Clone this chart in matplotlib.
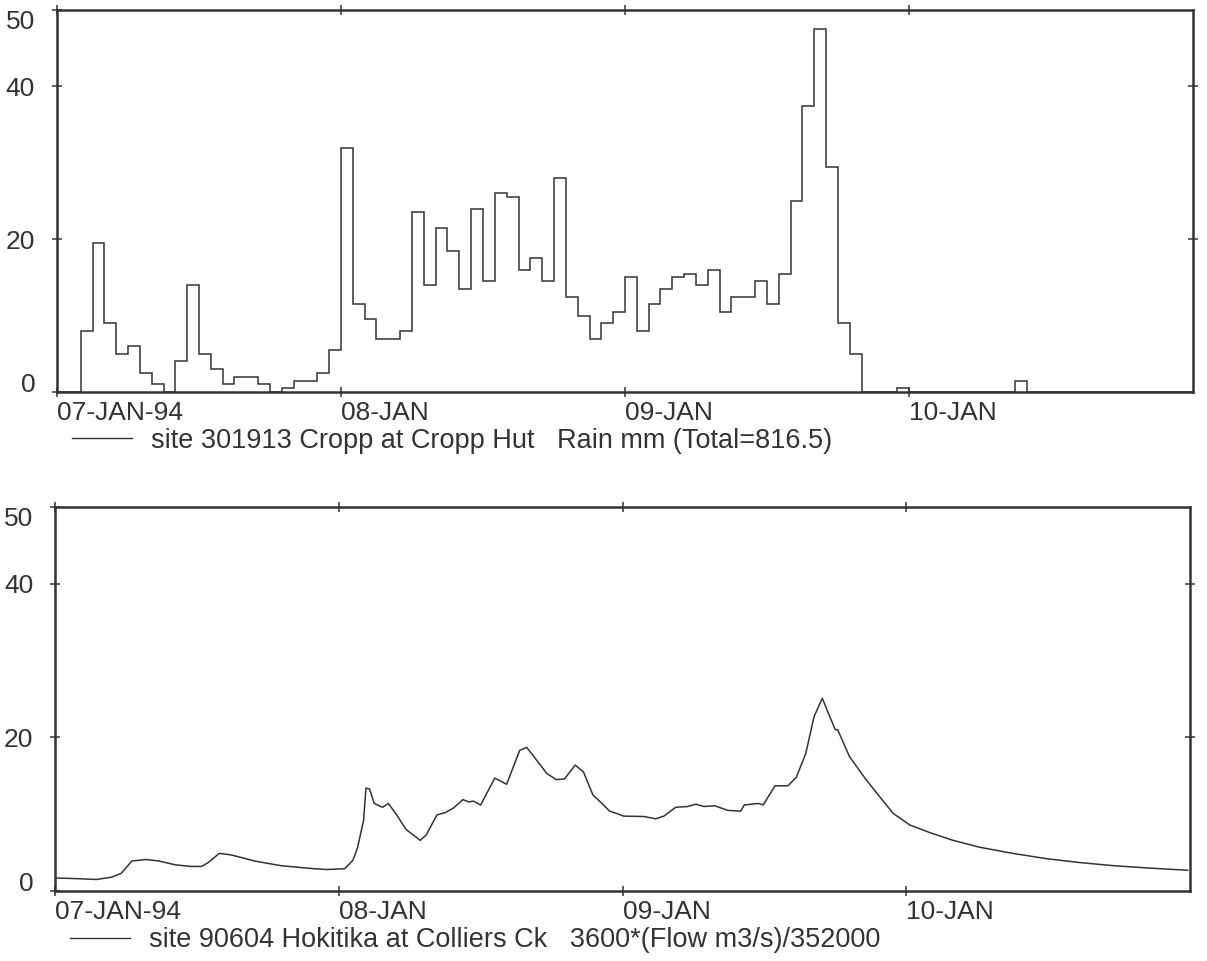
import numpy as np
import matplotlib.pyplot as plt
from matplotlib.lines import Line2D

plt.rcParams['font.family'] = ['Liberation Sans', 'DejaVu Sans']

# hourly rain at Cropp Hut, 07-JAN-94 00:00 onwards (mm)
rain_mm = [
    0, 0, 8.0, 19.5, 9.0, 5.0, 6.0, 2.5, 1.0, 0,
    4.0, 14.0, 5.0, 3.0, 1.0, 2.0, 2.0, 1.0, 0, 0.5,
    1.5, 1.5, 2.5, 5.5, 32.0, 11.5, 9.5, 7.0, 7.0, 8.0,
    23.5, 14.0, 21.5, 18.5, 13.5, 24.0, 14.5, 26.0, 25.5, 16.0,
    17.5, 14.5, 28.0, 12.5, 10.0, 7.0, 9.0, 10.5, 15.0, 8.0,
    11.5, 13.5, 15.0, 15.5, 14.0, 16.0, 10.5, 12.5, 12.5, 14.5,
    11.5, 15.5, 25.0, 37.5, 47.5, 29.5, 9.0, 5.0, 0, 0,
    0, 0.5, 0, 0, 0, 0, 0, 0, 0, 0,
    0, 1.5, 0, 0, 0, 0, 0, 0, 0, 0,
    0, 0, 0, 0, 0, 0,
]

# Hokitika at Colliers Ck, flow scaled to mm/h equivalent
flow_hours = [
    0, 2, 3.5, 4.8, 5.6, 6.5, 7.7, 8.8, 10.2, 11.5, 12.4, 12.95, 13.9, 14.9,
    16.9, 19.1, 21.9, 23.0, 24.5, 25.2, 25.6, 26.1, 26.3, 26.6, 27.0, 27.7,
    28.2, 28.9, 29.7, 30.9, 31.4, 32.3, 33.0, 33.7, 34.5, 35.0, 35.4, 36.0,
    37.2, 38.2, 39.3, 39.9, 40.6, 41.6, 42.4, 43.1, 44.0, 44.7, 45.5, 46.4,
    46.9, 47.5, 48.1, 49.8, 50.8, 51.5, 52.5, 53.5, 54.2, 54.9, 55.8, 56.9,
    58.0, 58.3, 59.5, 59.9, 60.9, 62.0, 62.7, 63.5, 64.2, 64.9, 65.4, 66.0,
    66.2, 67.2, 68.6, 70.0, 70.9, 72.3, 74.0, 75.95, 78.2, 81.0, 83.9, 86.7,
    89.5, 92.4, 95.8,
]
flow_scaled = [
    1.7, 1.6, 1.5, 1.8, 2.3, 3.9, 4.1, 3.9, 3.4, 3.2, 3.2, 3.7, 4.9, 4.7,
    3.9, 3.3, 2.9, 2.8, 2.9, 4.0, 5.7, 9.2, 13.4, 13.3, 11.4, 10.9,
    11.4, 9.9, 8.0, 6.6, 7.3, 9.9, 10.2, 10.8, 11.9, 11.6, 11.7, 11.2,
    14.7, 13.9, 18.3, 18.7, 17.3, 15.3, 14.5, 14.6, 16.4, 15.5, 12.5, 11.2,
    10.4, 10.1, 9.75, 9.7, 9.4, 9.75, 10.9, 11.0, 11.3, 11.0, 11.1, 10.5,
    10.4, 11.2, 11.4, 11.2, 13.7, 13.7, 14.8, 17.9, 22.7, 25.1, 23.2, 21.0,
    21.0, 17.5, 14.5, 11.8, 10.1, 8.6, 7.6, 6.6, 5.7, 4.9, 4.2, 3.7,
    3.3, 3.0, 2.7,
]

day_ticks = [0, 24, 48, 72]
day_labels = ['07-JAN-94', '08-JAN', '09-JAN', '10-JAN']
y_ticks = [0, 20, 40, 50]

rain_label = 'site 301913 Cropp at Cropp Hut   Rain mm (Total=816.5)'
flow_label = 'site 90604 Hokitika at Colliers Ck   3600*(Flow m3/s)/352000'

ink = '#333333'
W, H = 1207, 961

fig = plt.figure(figsize=(W / 100, H / 100), dpi=100)
ax_rain = fig.add_axes([57 / W, 1 - 392 / H, 1136 / W, 382 / H])
ax_flow = fig.add_axes([55 / W, 1 - 891 / H, 1135 / W, 384 / H])


def style_axes(ax, label):
    ax.set_xlim(0, 96)
    ax.set_ylim(0, 50)
    ax.set_xticks(day_ticks, day_labels)
    ax.set_yticks(y_ticks, [str(v) for v in y_ticks])
    ax.tick_params(axis='both', direction='inout', length=7.5, width=1.1,
                   color=ink, labelcolor=ink, labelsize=19,
                   top=True, right=True)
    ax.tick_params(axis='x', pad=3)
    ax.tick_params(axis='y', pad=12)
    for lab in ax.get_xticklabels():
        lab.set_ha('left')
    ylabs = ax.get_yticklabels()
    ylabs[0].set_va('baseline')
    ylabs[-1].set_va('top')
    yt = ax.yaxis.get_major_ticks()
    yt[0].tick2line.set_visible(False)
    yt[-1].tick2line.set_visible(False)
    for sp in ax.spines.values():
        sp.set_linewidth(1.8)
        sp.set_color(ink)
    ax.legend(handles=[Line2D([], [], color=ink, lw=1.0)], labels=[label],
              loc='center left', bbox_to_anchor=(15 / 1136, -49 / 383),
              frameon=False, fontsize=19.5, labelcolor=ink,
              handlelength=2.2, handletextpad=0.7,
              borderpad=0, borderaxespad=0)


# hyetograph as hourly steps
ax_rain.stairs(rain_mm, np.arange(len(rain_mm) + 1), baseline=0,
               color=ink, linewidth=1.1)
style_axes(ax_rain, rain_label)

# hydrograph
ax_flow.plot(flow_hours, flow_scaled, color=ink, linewidth=1.1)
style_axes(ax_flow, flow_label)

fig.savefig('out.png', dpi=100, facecolor='white')
